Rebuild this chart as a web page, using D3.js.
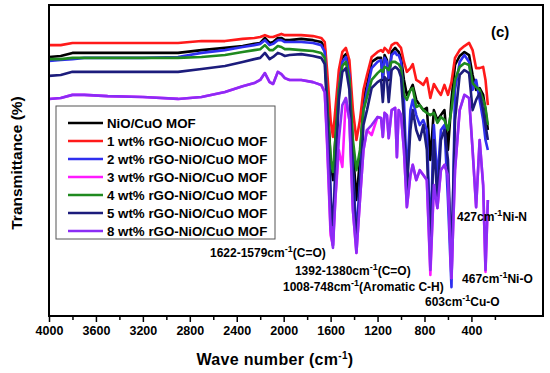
<!DOCTYPE html>
<html>
<head>
<meta charset="utf-8">
<script src="https://cdn.jsdelivr.net/npm/d3@7"></script>
<style>
  body { margin: 0; background: #fff; }
  text { font-family: Arial, "Liberation Sans", sans-serif; font-weight: bold; }
</style>
</head>
<body>
<script>
var width = 550; // canvas width
var height = 373; // canvas height

// wave numbers (cm-1) where the spectra were read
var waveNumbers = [4000, 3900, 3800, 3700, 3500, 3200, 2900, 2700, 2500, 2350,
  2250, 2200, 2160, 2120, 2090, 2050, 2020, 1990, 1950, 1850,
  1750, 1680, 1650, 1630, 1600, 1580, 1560, 1530, 1500, 1470,
  1440, 1410, 1380, 1350, 1320, 1290, 1250, 1200, 1170, 1155,
  1140, 1120, 1105, 1080, 1050, 1035, 1020, 1000, 975, 950,
  920, 900, 870, 840, 810, 780, 750, 720, 690, 660,
  630, 600, 570, 540, 500, 460, 420, 390, 360, 330,
  300, 280, 260];

// transmittance (%) of every sample
var tNiOCuO = [83.3, 83.6, 84.6, 84.6, 84.6, 84.6, 84.6, 85.5, 86.2, 86.8,
  87.5, 87.8, 89.4, 87.8, 88.1, 89.4, 89.4, 88.7, 88.7, 89.1,
  88.7, 88.1, 86.2, 72.7, 50.2, 43.7, 56.6, 75.9, 83.0, 84.2,
  79.1, 53.4, 37.3, 50.2, 69.5, 74.3, 81.7, 83.0, 83.0, 75.9,
  83.9, 82.3, 75.9, 84.9, 86.2, 85.5, 84.9, 83.0, 75.9, 71.1,
  72.7, 74.3, 69.5, 67.8, 66.2, 66.9, 50.2, 66.2, 63.0, 64.6,
  66.2, 53.4, 69.5, 80.7, 83.6, 84.9, 83.9, 77.5, 72.7, 73.3,
  71.1, 66.2, 59.8];
var t1wt = [87.1, 87.1, 87.8, 87.8, 87.8, 87.8, 87.8, 88.4, 88.4, 89.1,
  89.4, 89.7, 90.3, 89.7, 89.7, 90.3, 90.7, 90.3, 90.3, 90.3,
  90.0, 89.4, 88.1, 79.1, 63.0, 57.6, 66.2, 79.1, 84.9, 86.2,
  82.3, 66.2, 56.6, 63.0, 72.7, 77.5, 83.3, 84.9, 85.5, 84.9,
  86.2, 85.5, 84.6, 87.1, 87.8, 87.8, 87.1, 86.2, 81.7, 78.5,
  79.7, 81.0, 75.9, 75.2, 74.3, 76.5, 70.1, 74.6, 72.7, 71.1,
  74.3, 71.1, 75.2, 83.0, 85.5, 86.8, 87.8, 85.5, 79.7, 79.7,
  80.1, 75.9, 67.8];
var t2wt = [82.0, 82.3, 82.6, 83.0, 83.0, 83.0, 83.3, 84.6, 85.5, 86.5,
  87.1, 87.5, 88.7, 87.1, 87.5, 88.7, 88.7, 88.1, 88.1, 88.1,
  87.8, 87.1, 84.9, 69.5, 40.5, 22.8, 46.9, 72.7, 81.7, 83.3,
  77.5, 46.9, 26.0, 43.7, 66.2, 72.7, 79.7, 81.7, 82.3, 76.5,
  83.0, 81.7, 76.5, 83.9, 84.9, 83.9, 83.9, 81.7, 69.5, 43.7,
  66.2, 69.5, 64.6, 61.4, 63.0, 59.8, 24.4, 61.4, 43.7, 59.8,
  61.4, 37.3, 9.3, 72.7, 81.7, 83.9, 81.7, 72.7, 75.9, 69.5,
  63.0, 56.6, 53.4];
var t3wt = [69.8, 70.1, 71.1, 71.1, 70.7, 70.4, 69.8, 70.4, 72.0, 73.9,
  74.9, 75.9, 78.1, 75.2, 74.6, 78.5, 77.8, 76.5, 75.9, 75.9,
  75.2, 74.3, 72.0, 55.0, 26.0, 22.8, 37.3, 53.4, 47.9, 70.1,
  63.0, 34.1, 20.3, 37.3, 53.4, 59.8, 58.2, 64.0, 63.7, 57.6,
  65.3, 64.6, 57.2, 66.2, 66.9, 51.1, 66.2, 64.6, 53.4, 35.0,
  45.3, 48.6, 43.7, 46.9, 45.3, 43.7, 13.2, 42.1, 34.7, 46.9,
  48.6, 45.3, 12.2, 46.9, 66.2, 71.1, 70.1, 53.4, 35.0, 56.6,
  42.1, 14.2, 37.3];
var t4wt = [82.6, 82.6, 83.0, 83.0, 83.0, 83.0, 83.0, 83.3, 83.9, 84.9,
  85.5, 85.8, 87.1, 85.5, 85.5, 86.8, 86.5, 85.8, 85.8, 85.5,
  85.2, 84.6, 83.0, 69.5, 50.2, 46.3, 56.6, 72.7, 80.4, 81.7,
  75.9, 56.6, 46.9, 53.4, 66.2, 70.4, 75.9, 78.1, 79.1, 78.5,
  80.1, 79.7, 79.1, 81.7, 81.7, 81.3, 81.0, 79.7, 71.1, 69.5,
  72.7, 73.3, 67.2, 67.8, 66.2, 65.3, 64.6, 65.3, 62.1, 64.0,
  63.0, 59.8, 66.2, 75.9, 80.1, 81.3, 80.7, 74.9, 73.6, 72.7,
  69.5, 66.9, 61.4];
var t5wt = [77.2, 77.5, 78.5, 78.5, 78.5, 78.5, 78.5, 79.4, 80.4, 81.7,
  82.6, 83.0, 84.6, 82.6, 83.3, 84.6, 84.2, 83.6, 83.9, 84.2,
  83.6, 83.0, 81.0, 66.2, 37.3, 29.3, 45.3, 69.5, 78.5, 79.7,
  72.7, 43.7, 24.4, 40.5, 61.4, 66.2, 73.3, 75.2, 75.9, 68.8,
  76.8, 75.9, 68.8, 79.1, 80.1, 79.7, 79.1, 76.8, 63.0, 40.5,
  59.8, 66.2, 59.8, 56.6, 61.4, 53.4, 21.2, 56.6, 37.3, 56.6,
  59.8, 50.2, 18.0, 63.0, 77.5, 79.1, 78.1, 66.2, 69.5, 71.7,
  66.2, 61.4, 56.6];
var t8wt = [69.8, 70.1, 71.1, 71.1, 70.7, 70.4, 69.8, 70.4, 72.0, 73.9,
  74.9, 75.9, 78.1, 75.2, 74.6, 78.5, 77.8, 76.5, 75.9, 75.9,
  75.2, 74.3, 72.0, 56.6, 27.7, 21.9, 37.3, 56.6, 67.8, 70.1,
  63.0, 34.1, 20.3, 37.3, 53.4, 59.8, 61.4, 64.0, 63.7, 57.6,
  65.3, 64.6, 57.2, 66.2, 66.9, 51.1, 66.2, 64.6, 53.4, 35.0,
  45.3, 48.6, 43.7, 46.9, 45.3, 43.7, 14.8, 42.1, 34.7, 46.9,
  48.6, 45.3, 12.2, 46.9, 66.2, 71.1, 70.1, 53.4, 35.0, 56.6,
  42.1, 14.8, 37.3];

var seriesNames = ["NiO/CuO MOF", "1 wt% rGO-NiO/CuO MOF", "2 wt% rGO-NiO/CuO MOF",
  "3 wt% rGO-NiO/CuO MOF", "4 wt% rGO-NiO/CuO MOF", "5 wt% rGO-NiO/CuO MOF",
  "8 wt% rGO-NiO/CuO MOF"];
var seriesValues = [tNiOCuO, t1wt, t2wt, t3wt, t4wt, t5wt, t8wt];
var colorSet = ["#000000", "#ff1a1a", "#2f2fef", "#ff1aff", "#1f8a1f", "#1c1c7c", "#8b2cf5"];

var majorTicks = [4000, 3600, 3200, 2800, 2400, 2000, 1600, 1200, 800, 400];
var minorTicks = [3800, 3400, 3000, 2600, 2200, 1800, 1400, 1000, 600, 200];

// band assignments: label, superscript split, anchor in data units
var bandLabels = [
  { pre: "1622-1579cm", post: "(C=O)", wn: 2628, t: 19 },
  { pre: "1392-1380cm", post: "(C=O)", wn: 1904, t: 13.2 },
  { pre: "1008-748cm", post: "(Aromatic C-H)", wn: 2006, t: 8 },
  { pre: "603cm", post: "Cu-O", wn: 796, t: 3.2 },
  { pre: "467cm", post: "Ni-O", wn: 480, t: 10.6 },
  { pre: "427cm", post: "Ni-N", wn: 523, t: 30.5 }
];

var margin = { top: 5, right: 7, bottom: 57, left: 49 };

var svg = d3.select("body")
  .append("svg")
  .attr("width", width)
  .attr("height", height);

var x = d3.scaleLinear()
  .domain([4000, -210])
  .range([margin.left, width - margin.right]);

var y = d3.scaleLinear()
  .domain([0, 100])
  .range([height - margin.bottom, margin.top]);

// minor ticks
svg.append("g")
  .attr("transform", "translate(0," + (height - margin.bottom) + ")")
  .call(d3.axisBottom(x).tickValues(minorTicks).tickSize(4).tickFormat(""))
  .call(function(g) { g.select(".domain").remove(); })
  .selectAll("line").attr("stroke-width", 1.5);

// major ticks + labels
var xAxis = svg.append("g")
  .attr("transform", "translate(0," + (height - margin.bottom) + ")")
  .call(d3.axisBottom(x).tickValues(majorTicks).tickSize(6).tickPadding(4).tickFormat(d3.format("d")));
xAxis.select(".domain").remove();
xAxis.selectAll("line").attr("stroke-width", 1.5);
xAxis.selectAll("text")
  .attr("font-size", 12.5)
  .attr("font-family", "Arial, 'Liberation Sans', sans-serif")
  .attr("font-weight", "bold")
  .attr("fill", "#000");

// spectra
var line = d3.line()
  .x(function(d) { return x(d[0]); })
  .y(function(d) { return y(d[1]); });

seriesValues.forEach(function(vals, i) {
  var pts = waveNumbers.map(function(w, j) { return [w, vals[j]]; });
  svg.append("path")
    .datum(pts)
    .attr("fill", "none")
    .attr("stroke", colorSet[i])
    .attr("stroke-width", 2.6)
    .attr("stroke-linejoin", "round")
    .attr("d", line);
});

// frame
svg.append("rect")
  .attr("x", margin.left)
  .attr("y", margin.top)
  .attr("width", width - margin.left - margin.right)
  .attr("height", height - margin.top - margin.bottom)
  .attr("fill", "none")
  .attr("stroke", "#000")
  .attr("stroke-width", 2);

// legend
var legend = svg.append("g").attr("transform", "translate(56,106)");
legend.append("rect")
  .attr("width", 219)
  .attr("height", 133)
  .attr("fill", "#fff")
  .attr("stroke", "#555")
  .attr("stroke-width", 1);

var item = legend.selectAll(".item")
  .data(seriesNames)
  .enter()
  .append("g")
  .attr("class", "item")
  .attr("transform", function(d, i) { return "translate(0," + (17 + i * 18) + ")"; });

item.append("line")
  .attr("x1", 12)
  .attr("x2", 47)
  .attr("stroke", function(d, i) { return colorSet[i]; })
  .attr("stroke-width", 2.5);

item.append("text")
  .attr("x", 51)
  .attr("y", 4.5)
  .attr("font-size", 13.3)
  .text(function(d) { return d; });

// band labels
var band = svg.selectAll(".band")
  .data(bandLabels)
  .enter()
  .append("text")
  .attr("class", "band")
  .attr("x", function(d) { return x(d.wn); })
  .attr("y", function(d) { return y(d.t); })
  .attr("font-size", 12);
band.append("tspan").text(function(d) { return d.pre; });
band.append("tspan").attr("dy", -5).attr("font-size", 9).text("-1");
band.append("tspan").attr("dy", 5).text(function(d) { return d.post; });

// panel tag
svg.append("text")
  .attr("x", 491)
  .attr("y", 37)
  .attr("font-size", 15)
  .text("(c)");

// axis titles
svg.append("text")
  .attr("transform", "translate(22,163) rotate(-90)")
  .attr("text-anchor", "middle")
  .attr("font-size", 15.5)
  .text("Transmittance (%)");

var xt = svg.append("text")
  .attr("x", 275)
  .attr("y", 365)
  .attr("text-anchor", "middle")
  .attr("font-size", 16)
  .attr("letter-spacing", 0.3);
xt.append("tspan").text("Wave number (cm");
xt.append("tspan").attr("dy", -6).attr("font-size", 10).text("-1");
xt.append("tspan").attr("dy", 6).text(")");
</script>
</body>
</html>
